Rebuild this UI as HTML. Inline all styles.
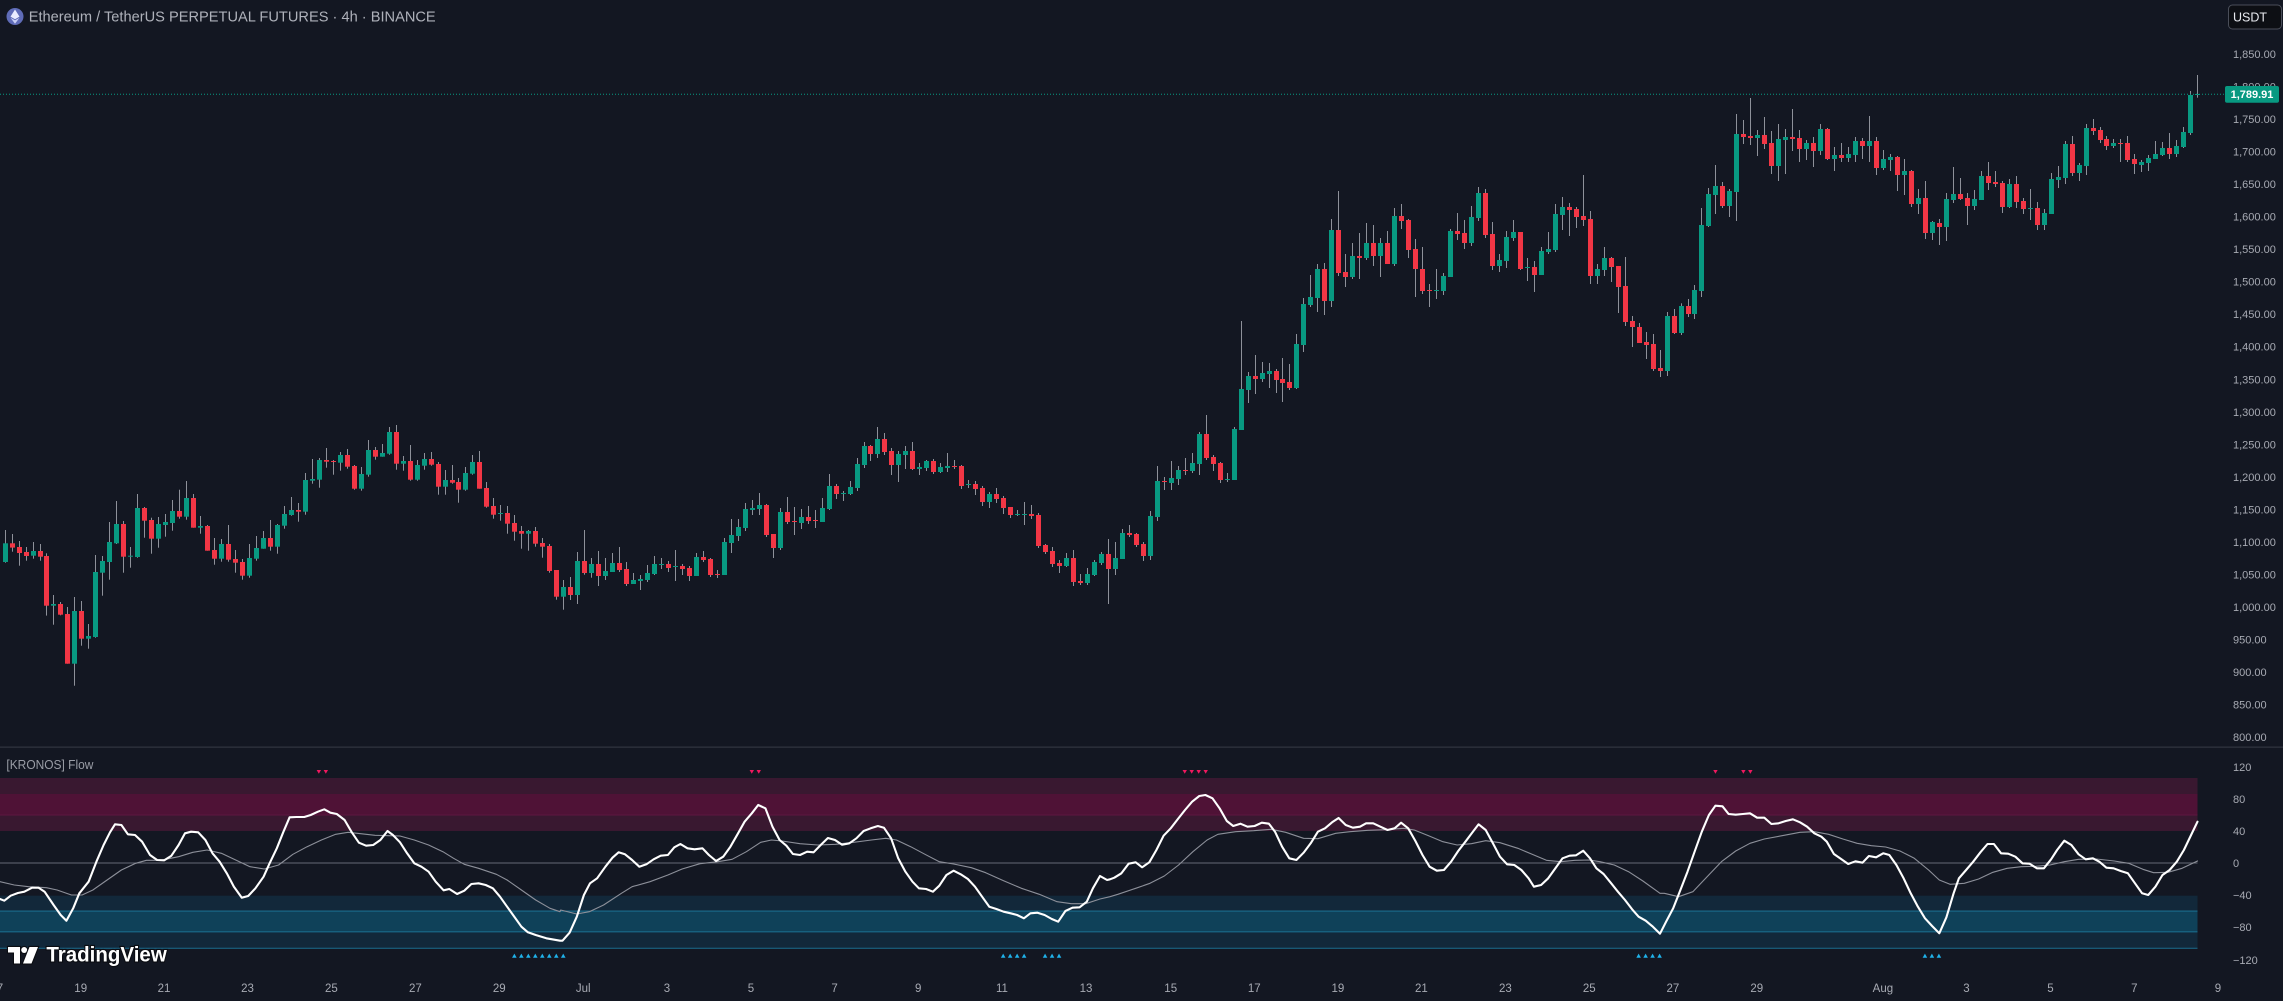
<!DOCTYPE html>
<html>
<head>
<meta charset="utf-8">
<style>
html,body{margin:0;padding:0;background:#131722;overflow:hidden;}
svg{display:block;}
text{font-family:"Liberation Sans",sans-serif;}
</style>
</head>
<body>
<svg id="s" width="2283" height="1001" viewBox="0 0 2283 1001" xmlns="http://www.w3.org/2000/svg">
<rect x="0" y="0" width="2283" height="1001" fill="#131722"/>

<!-- header -->
<circle cx="15" cy="16.5" r="8.5" fill="#5f6cb8"/>
<polygon points="15,9.5 19.5,16.6 15,19.2 10.5,16.6" fill="#e9ecff"/>
<polygon points="15,20.3 19.5,17.7 15,23.8 10.5,17.7" fill="#c9cff5"/>
<text x="28.7" y="21.7" font-size="15" fill="#aeb1ba" textLength="407" lengthAdjust="spacingAndGlyphs">Ethereum / TetherUS PERPETUAL FUTURES · 4h · BINANCE</text>

<!-- oscillator bands -->
<rect x="0" y="778" width="2197.5" height="53" fill="#391830"/>
<rect x="0" y="794" width="2197.5" height="21" fill="#4f1236"/>
<rect x="0" y="814.5" width="2197.5" height="1" fill="#5e1640"/>
<rect x="0" y="895.7" width="2197.5" height="52.8" fill="#12283a"/>
<rect x="0" y="911" width="2197.5" height="20.7" fill="#0f4159"/>
<rect x="0" y="910.5" width="2197.5" height="1.2" fill="#1a6888"/>
<rect x="0" y="931.2" width="2197.5" height="1.2" fill="#1a6888"/>
<rect x="0" y="947.7" width="2197.5" height="1.2" fill="#1a5f7e"/>
<rect x="0" y="862.5" width="2197.5" height="1" fill="#666975"/>

<!-- pane separator -->
<rect x="0" y="746.5" width="2283" height="1.3" fill="#2f333e"/>

<text x="6.4" y="768.8" font-size="13" fill="#9a9da6" textLength="87" lengthAdjust="spacingAndGlyphs">[KRONOS] Flow</text>

<g id="candles"></g>
<g id="osc"></g>
<g id="axes"></g>

<!-- price line -->
<line x1="0" y1="94.3" x2="2225" y2="94.3" stroke="#089981" stroke-width="1" stroke-dasharray="1,2"/>

<!-- TradingView logo -->
<g stroke="#0b0d12" stroke-width="2.2" paint-order="stroke" fill="#ffffff">
  <path d="M8,947 H20 V963.5 H14 V952.5 H8 Z"/>
  <circle cx="24.2" cy="950" r="3"/>
  <path d="M29.5,947 H38 L31.5,963.5 H23 Z"/>
  <text x="46.4" y="961.7" font-size="21" font-weight="bold" textLength="120.4" lengthAdjust="spacingAndGlyphs">TradingView</text>
</g>
</svg>

<script>
(function(){
var NS="http://www.w3.org/2000/svg";
var svg=document.getElementById("s");
function el(tag,attrs,parent,text){var e=document.createElementNS(NS,tag);for(var k in attrs)e.setAttribute(k,attrs[k]);if(text!=null)e.textContent=text;(parent||svg).appendChild(e);return e;}
function cx(i){return 4.6+6.983*i;}

var groups=[
{start:0,y0:400,d:`G 430 486 390 488
R 430 443 402 455
R 441 459 423 497
R 456 468 441 482
G 453 467 426 476
R 453 470 432 482
R 468 617 460 647
G 612 617 585 674
R 612 644 606 646
R 642 791 621 791
G 633 791 591 857
R 633 716 603 737
G 708 716 672 746
G 516 711 465 713
G 483 518 468 587
G 426 486 366 539
G 372 430 303 432
R 372 470 363 518
G 467 470 441 503
G 324 471 282 473
R 324 362 321 413
R 360 416 353 461
G 372 416 351 443
G 366 375 342 410
G 333 369 300 392
R 333 350 269 356
G 294 350 243 359
R 294 383 282 383
G 378 383 348 401
R 378 452 375 452
R 450 476 414 494
G 432 476 417 485
R 432 479 375 485
R 477 488 450 518
R 486 527 477 539
G 474 527 432 533
G 444 476 408 482
G 414 446 393 446
R 414 440 360 452
G 375 440 372 461
G 342 377 318 386
G 330 345 291 347
R 330 335 309 365
G 240 335 219 344
G 237 242 177 251
G 180 239 174 263
R 180 185 144 203
R 183 185 180 224
G 165 188 156 212
R 165 200 147 206
R 198 266 195 269
G 222 266 201 272
G 150 224 120 230
R 150 170 141 179
G 159 170 132 170
G 96 161 81 164
R 96 191 75 209
G 183 191 168 212
R 183 239 135 242
G 195 239 180 242
G 177 197 159 209
R 177 194 156 197
R 192 260 186 284
G 240 260 210 284
R 240 248 195 251
R 246 269 234 308
G 219 269 201 272
G 186 221 165 224
R 186 266 153 266
R 264 320 246 323
R 318 344 294 356
G 339 342 315 362
R 339 371 318 401
R 369 395 345 422
R 393 401 378 446
G 393 401 390 452
R 393 431 381 440
R 429 440 414 473
R 438 513 432 518
R 510 590 510 599`},
{start:80,y0:400,d:`G 561 590 540 629
R 561 585 531 600
G 483 585 456 612
R 483 519 390 524
G 492 519 474 533
R 492 528 453 558
G 513 528 474 540
G 489 516 459 516
R 489 510 441 516
R 507 552 486 558
G 540 552 519 552
G 537 543 525 570
G 519 540 495 546
G 492 522 468 525
G 492 495 474 507
R 492 504 483 516
G 498 501 450 543
R 498 507 492 525
R 504 528 498 543
G 471 528 459 528
R 471 480 453 486
R 477 525 474 531
R 522 525 510 534
G 426 525 414 525
G 405 429 357 459
G 381 408 357 423
G 327 384 309 393
G 324 330 300 345
G 315 327 279 345
R 315 405 312 411
R 402 444 402 474
G 336 444 324 450
R 336 366 291 372
R 363 366 321 405
G 351 369 327 387
R 351 363 318 372
R 360 363 330 384
G 324 366 294 366
G 258 327 222 330
R 258 282 252 297
G 279 282 273 303
G 261 282 243 285
G 192 264 174 273
G 138 195 126 204
R 138 162 135 183
G 117 162 81 174
R 117 156 99 165
R 153 195 144 225
G 162 195 153 246
G 153 165 138 207
R 153 207 126 210
G 201 207 189 225
G 183 204 180 213
R 183 216 177 222
G 201 216 189 219
G 198 204 159 216
R 198 201 180 207
R 198 258 195 267
G 252 255 240 264
R 252 267 243 285
R 264 306 258 318
G 282 306 276 324
R 282 297 264 309
R 294 324 288 342
R 321 345 321 354
G 342 345 330 348
G 342 345 306 375
R 342 348 315 357
R 345 438 339 444
R 435 456 432 462
R 453 492 441 501
R 489 498 480 519
G 474 498 459 501
R 474 546 450 558
R 543 549 522 555
G 522 549 504 555
G 486 525 480 528
G 462 489 456 495
R 462 507 417 612
G 474 507 426 525
G 399 477 387 477
R 399 405 375 411
R 402 435 399 441
R 432 468 426 483
G 348 468 333 480
G 243 351 198 363`},
{start:166,y0:160,d:`R 963 966 951 990
G 954 969 903 990
G 930 957 918 975
R 930 933 894 945
G 909 933 879 939
G 822 912 816 945
R 822 894 765 900
R 891 912 885 933
R 909 960 906 969
G 957 960 939 966
G 807 960 801 960
G 687 810 483 810
G 648 690 636 729
R 648 657 585 702
G 639 657 606 666
G 633 642 609 684
R 633 660 627 699
R 657 669 594 726
R 666 684 612 690
G 552 684 522 687
G 432 555 414 576
G 411 435 345 441
G 327 414 312 456
R 327 423 309 465
G 210 423 177 441
R 210 339 93 348
R 336 351 282 381
G 288 351 249 357
R 288 294 219 357
G 249 294 189 300
R 249 288 195 318
G 249 288 234 351
R 249 312 213 312
G 168 312 144 318
R 168 183 132 207
R 180 270 177 294
R 267 327 237 411
R 327 393 261 402
R 390 393 372 441
G 390 393 327 417
G 348 393 339 405
G 213 351 207 351
R 213 222 159 240
R 219 249 180 267
G 171 249 138 258
G 99 174 81 183
R 99 225 87 234
R 222 318 186 330
G 300 318 282 336
G 231 303 213 324
G 216 234 180 243
R 216 327 216 330
G 321 324 294 363
R 321 345 303 396
G 273 345 261 345
G 267 276 216 282
G 162 270 132 276
G 141 165 111 210
R 141 150 129 228
R 147 171 141 204
R 168 180 45 198
R 177 348 153 372
G 327 348 312 372
G 294 330 261 348
R 294 321 291 366
R 318 381 318 459
R 378 486 291 498
R 483 501 468 561
R 501 549 489 549
R 546 555 516 597
R 552 627 522 633
R 624 633 570 651
G 468 633 456 648
R 468 519 447 522`},
{start:240,y0:90,d:`G 648 729 640 735
R 648 672 627 681
G 600 672 585 687
G 405 603 354 621
G 312 408 294 411
G 288 315 225 372
R 288 348 276 354
G 303 348 297 381
G 132 306 72 393
R 132 141 90 162
R 138 144 24 165
G 135 144 120 198
R 135 162 81 177
R 159 228 123 252
G 147 228 102 273
G 141 150 117 252
R 141 147 57 183
R 144 177 120 216
G 159 177 150 210
R 159 183 141 231
G 117 183 102 195
R 117 207 114 210
G 195 207 171 243
R 195 204 159 216
G 192 204 171 216
G 153 195 141 216
R 153 168 144 207
G 153 168 78 216
R 153 234 141 255
G 207 234 180 240
G 201 210 192 243
R 201 255 198 303
G 243 255 207 315
R 243 342 240 351
G 324 342 297 372
R 324 429 273 447
G 396 429 393 450
R 399 411 387 465
G 327 411 309 453
G 312 330 231 339
R 312 327 264 330
R 324 348 309 405
G 327 348 300 360
G 258 330 243 330
R 258 279 216 300
R 276 282 243 291
R 279 351 273 369
G 282 351 267 354
R 282 336 258 354
R 333 357 324 372
G 354 357 297 390
R 354 405 336 420
G 369 405 357 420
G 267 372 249 372
G 261 270 228 294
G 162 264 153 282
R 162 249 138 258
G 225 249 219 273
G 114 228 102 255
R 114 123 87 135
R 120 150 111 159
R 147 168 138 180
G 159 168 147 174
R 159 162 147 216
R 159 210 138 216
R 207 222 192 252
G 216 225 210 246
G 204 219 195 243
G 192 207 153 207
G 174 195 156 198
R 174 192 129 207
G 168 192 150 201
G 126 171 111 174
G 15 129 3 135
G 12 15 -45 23`}
];
var cg=document.getElementById("candles");
groups.forEach(function(g){
  var lines=g.d.trim().split("\n");
  lines.forEach(function(ln,k){
    var p=ln.trim().split(/\s+/);
    var i=g.start+k;
    var x=cx(i);
    var t=g.y0+(+p[1])/3, b=g.y0+(+p[2])/3, wt=g.y0+(+p[3])/3, wb=g.y0+(+p[4])/3;
    var col=p[0]=="G"?"#089981":"#f23645";
    var xr=Math.round(x);
    el("rect",{x:xr,y:Math.min(wt,t).toFixed(1),width:1,height:(Math.max(wb,b)-Math.min(wt,t)).toFixed(1),fill:"#8e919a"},cg);
    var h=Math.max(1,b-t);
    el("rect",{x:xr-2,y:t.toFixed(1),width:5,height:h.toFixed(1),fill:col},cg);
  });
});

var og=document.getElementById("osc");
function conv(x0,str){return str.trim().split(/\s+/).map(function(s){var a=s.split(",");return [x0+(+a[0])/2.8,745+(+a[1])/3];});}
function merge(parts){var out=[];parts.forEach(function(p){p.forEach(function(pt){if(!out.length||pt[0]>out[out.length-1][0]+0.5)out.push(pt);});});return out;}
function pl(pts,attrs){attrs.points=pts.map(function(p){return p[0].toFixed(1)+","+p[1].toFixed(1);}).join(" ");attrs.fill="none";attrs["stroke-linejoin"]="round";attrs["stroke-linecap"]="round";el("polyline",attrs,og);}

var gray=merge([
conv(0,"0,410 40,420 80,425 130,428 160,435 200,450 230,450 260,435 300,405 340,375 380,355 410,346 450,346 500,335 540,322 580,315 620,325 660,345 700,365 740,372 780,360 820,328 860,305 900,285 940,268 975,262 1010,266 1050,271 1090,272 1120,273 1160,285 1200,300 1240,320 1270,340 1300,358 1340,370 1390,388 1420,405 1460,435 1500,465 1540,490 1568,500"),
conv(550,"0,475 30,495 75,507 110,500 150,480 200,445 230,425 280,410 330,390 370,372 420,356 470,350 510,343 550,320 590,292 620,285 650,288 700,296 750,300 800,298 850,292 900,285 940,280 970,285 1010,305 1050,328 1090,350 1130,357 1180,368 1220,383 1270,407 1320,430 1370,448 1420,470 1460,476 1500,476 1540,462 1568,455"),
conv(1100,"0,465 50,448 100,430 140,415 180,393 220,360 260,320 300,285 330,268 380,260 430,257 480,253 520,262 570,280 610,281 660,265 700,260 750,256 800,254 850,250 880,255 920,272 960,290 1000,300 1040,296 1080,287 1120,293 1170,310 1210,328 1250,346 1290,350 1330,346 1370,345 1400,350 1440,360 1480,380 1520,408 1568,445"),
conv(1650,"0,420 40,445 80,455 120,440 160,395 200,350 240,318 280,295 320,282 370,272 420,262 460,260 500,268 540,282 580,295 620,302 660,306 700,318 740,340 780,375 810,405 840,418 880,415 920,402 960,382 1000,370 1040,365 1080,364 1120,360 1160,350 1200,343 1250,342 1300,348 1340,355 1380,373 1410,383 1450,382 1490,370 1533,348")
]);
pl(gray,{stroke:"#8d909a","stroke-width":1.1});

var white=merge([
conv(0,"0,462 12,467 30,452 50,444 68,440 90,428 108,428 125,440 150,480 170,510 186,527 205,490 222,445 248,410 270,350 290,300 308,262 322,238 340,240 358,268 378,270 398,290 420,330 440,345 460,346 480,332 500,300 518,265 535,260 555,262 575,285 595,325 615,350 635,385 655,425 677,458 695,453 715,430 738,395 755,355 775,310 793,262 811,217 830,216 852,216 870,210 890,200 908,193 925,203 943,207 965,225 985,262 1005,293 1025,302 1045,300 1065,285 1085,258 1100,270 1120,292 1140,325 1160,355 1180,365 1200,380 1220,410 1242,436 1258,432 1280,447 1300,437 1320,417 1340,415 1360,420 1380,430 1400,455 1420,485 1440,515 1460,545 1478,562 1500,570 1530,580 1568,587"),
conv(550,"0,577 35,587 55,563 75,515 95,450 112,415 132,400 155,365 175,338 192,322 210,328 230,345 250,365 270,358 290,343 310,332 330,330 348,307 365,297 385,310 405,313 427,310 445,330 465,348 485,335 505,305 525,268 545,230 565,205 583,180 603,190 623,245 643,285 662,302 680,327 700,330 720,320 738,322 758,300 778,279 798,285 818,299 838,295 858,280 878,258 898,250 918,243 935,248 955,280 975,340 995,380 1015,410 1033,430 1053,432 1072,440 1090,422 1110,390 1130,377 1150,388 1170,402 1190,425 1210,455 1230,485 1250,492 1270,500 1290,505 1308,510 1327,520 1345,505 1365,503 1385,510 1405,522 1423,530 1443,498 1463,488 1483,487 1503,470 1520,430 1540,393 1560,405 1568,403"),
conv(1100,"0,392 20,405 40,398 60,385 80,356 100,352 118,367 138,352 158,315 178,272 198,250 218,222 238,195 258,170 278,153 295,150 315,160 335,190 355,228 373,243 393,236 413,245 433,243 453,233 473,236 490,260 510,305 530,340 550,345 570,323 590,295 610,260 630,250 650,232 668,219 688,240 708,248 728,245 745,235 765,235 785,245 805,255 825,250 843,233 863,250 883,288 903,330 923,365 943,377 963,375 983,350 1003,318 1023,290 1043,262 1060,238 1080,255 1100,295 1120,335 1140,358 1160,360 1180,375 1200,400 1215,425 1235,420 1255,400 1275,370 1295,340 1315,332 1333,331 1353,317 1372,340 1390,370 1410,387 1430,413 1450,440 1470,465 1490,493 1508,515 1528,527 1548,545 1568,566"),
conv(1650,"0,540 25,567 45,530 65,490 85,435 105,380 125,320 145,260 165,210 183,182 203,184 220,207 240,209 260,207 280,205 300,218 320,218 340,237 360,235 380,228 400,223 420,232 440,245 460,265 480,275 495,290 515,327 535,342 555,357 575,349 595,353 613,333 633,337 653,325 670,330 690,360 710,400 730,445 750,485 770,520 790,543 810,565 830,517 850,445 865,400 885,375 905,350 925,322 945,297 963,297 983,325 1003,326 1023,335 1043,355 1063,356 1083,370 1103,370 1123,343 1140,315 1160,287 1180,300 1200,328 1220,343 1240,340 1258,350 1278,368 1298,370 1318,378 1338,385 1358,415 1378,445 1395,450 1415,425 1435,390 1455,375 1475,350 1495,315 1515,270 1533,230")
]);
pl(white,{stroke:"#ffffff","stroke-width":2.1});

[45,46,107,108,169,170,171,172,245,249,250].forEach(function(i){var x=cx(i);
  el("polygon",{points:(x-2.2)+",770 "+(x+2.2)+",770 "+x+",773.8",fill:"#f0185f"},og);});
[73,74,75,76,77,78,79,80,143,144,145,146,149,150,151,234,235,236,237,275,276,277].forEach(function(i){var x=cx(i);
  el("polygon",{points:(x-2.3)+",957.7 "+(x+2.3)+",957.7 "+x+",953.6",fill:"#1fb2ea"},og);});

var ag=document.getElementById("axes");
var tc="#a7aab3";
for(var p=1850;p>=800;p-=50){
  var y=54+(1850-p)*0.6505;
  var s=p.toString(); if(p>=1000) s=s[0]+","+s.slice(1);
  el("text",{x:2233,y:(y+4).toFixed(1),"font-size":11,fill:tc},ag,s+".00");
}
[[120,767],[80,799],[40,831],[0,863],[-40,895],[-80,927],[-120,960]].forEach(function(a){
  var s=a[0]<0?"\u2212"+(-a[0]):""+a[0];
  el("text",{x:2233,y:a[1]+4,"font-size":11,fill:tc},ag,s);
});
var tl=[[0,"7"],[80.7,"19"],[164,"21"],[247.5,"23"],[331.4,"25"],[415.4,"27"],[499.3,"29"],[583.2,"Jul"],[667,"3"],[751,"5"],[834.6,"7"],[918.2,"9"],[1002,"11"],[1086,"13"],[1170.7,"15"],[1254.3,"17"],[1337.9,"19"],[1421.4,"21"],[1505.4,"23"],[1589.3,"25"],[1672.9,"27"],[1756.8,"29"],[1882.9,"Aug"],[1966.4,"3"],[2050.4,"5"],[2134.3,"7"],[2218,"9"]];
tl.forEach(function(a){el("text",{x:a[0],y:992,"font-size":11.5,fill:tc,"text-anchor":"middle"},ag,a[1]);});

el("rect",{x:2225,y:86,width:54,height:16.7,rx:2,fill:"#089981"},svg);
el("text",{x:2252,y:98.2,"font-size":11,"font-weight":"bold",fill:"#ffffff","text-anchor":"middle"},svg,"1,789.91");
el("rect",{x:2228.5,y:5,width:53,height:24,rx:4,fill:"#0d0f14",stroke:"#4a4e59","stroke-width":1},svg);
el("text",{x:2233,y:21.5,"font-size":12.5,fill:"#e6e8ee"},svg,"USDT");
})();
</script>
</body>
</html>
